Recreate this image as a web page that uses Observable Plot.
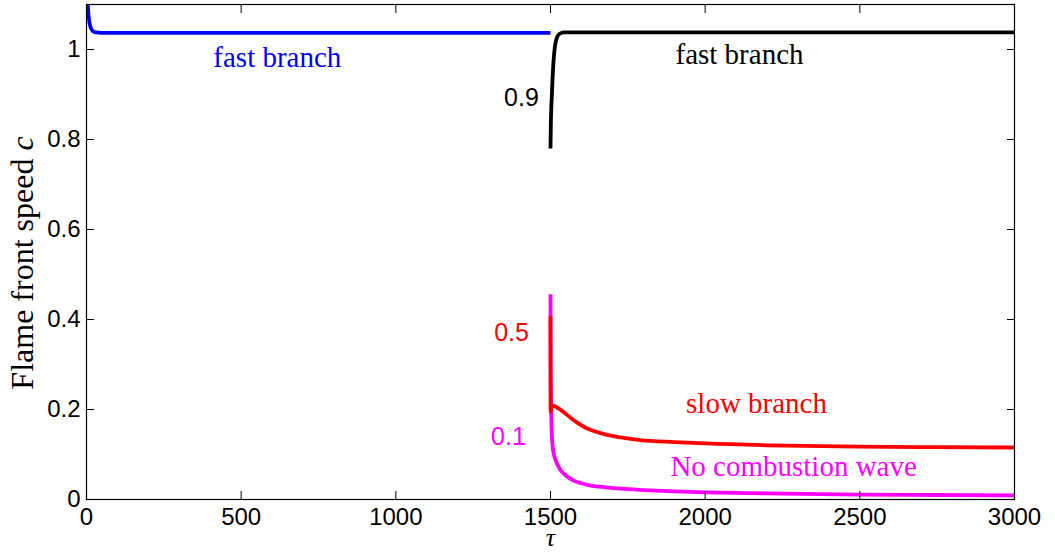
<!DOCTYPE html>
<html>
<head>
<meta charset="utf-8">
<script src="https://cdn.jsdelivr.net/npm/d3@7"></script>
<script src="https://cdn.jsdelivr.net/npm/@observablehq/plot@0.6"></script>
<style>
  html, body { margin: 0; padding: 0; background: #fff; }
  #chart { width: 1055px; height: 553px; }
</style>
</head>
<body>
<div id="chart"></div>
<script>
// ---- data ----
const xTicks = [0, 500, 1000, 1500, 2000, 2500, 3000];
const yTicks = [0, 0.2, 0.4, 0.6, 0.8, 1];
const yTickLabels = ["0", "0.2", "0.4", "0.6", "0.8", "1"];

// blue: fast branch, tau in [0, 1500]
const blueTau = [0, 1, 2.5, 5, 8, 12, 16, 20, 25, 32, 45, 70, 1500];
const blueC   = [1.25, 1.18, 1.13, 1.09, 1.067, 1.052, 1.045, 1.041, 1.039, 1.038, 1.037, 1.037, 1.037];

// black: initial 0.9 -> fast branch
const blackTau = [1500, 1501, 1502.5, 1504, 1507, 1510, 1514, 1518, 1523, 1530, 1542, 3000];
const blackC   = [0.78, 0.83, 0.87, 0.893, 0.94, 0.976, 1.005, 1.02, 1.03, 1.035, 1.038, 1.038];

// red: initial 0.5 -> slow branch
const redTau = [1500, 1500.3, 1503, 1510, 1520, 1535, 1550, 1570, 1590, 1615, 1645, 1680, 1727, 1790, 1900, 2000, 2200, 2500, 2750, 3000];
const redC   = [0.407, 0.195, 0.203, 0.208, 0.205, 0.198, 0.19, 0.179, 0.169, 0.159, 0.151, 0.144, 0.138, 0.132, 0.1275, 0.1245, 0.1205, 0.1175, 0.1163, 0.1155];

// magenta: initial 0.1 -> no combustion wave
const magTau = [1500, 1500.5, 1502, 1504, 1507, 1513, 1521, 1530, 1542, 1560, 1575, 1600, 1630, 1680, 1727, 1800, 1900, 2000, 2250, 2500, 2750, 3000];
const magC   = [0.456, 0.3, 0.2, 0.15, 0.116, 0.095, 0.08, 0.068, 0.058, 0.048, 0.042, 0.036, 0.031, 0.027, 0.024, 0.021, 0.018, 0.016, 0.013, 0.011, 0.010, 0.009];

// serif annotations (text, tau, c)
const blueLabel = ["fast branch"];   const blueLabelTau = [617];  const blueLabelC = [0.982];
const blackLabel = ["fast branch"];  const blackLabelTau = [2111]; const blackLabelC = [0.989];
const redLabel = ["slow branch"];    const redLabelTau = [2166];  const redLabelC = [0.213];
const magLabel = ["No combustion wave"]; const magLabelTau = [2286]; const magLabelC = [0.073];
// initial-value annotations
const initText = ["0.9", "0.5", "0.1"];
const initTau = [1406, 1374, 1364];
const initC = [0.893, 0.369, 0.138];

const xLabel = "τ";
const yLabel = "Flame front speed c";

// ---- build tables ----
const zip = (xs, ys) => xs.map((x, i) => ({tau: x, c: ys[i]}));
const blue = zip(blueTau, blueC);
const black = zip(blackTau, blackC);
const red = zip(redTau, redC);
const mag = zip(magTau, magC);
const init = initText.map((t, i) => ({t, tau: initTau[i], c: initC[i]}));
const initColors = ["#000000", "#ff0000", "#ff00ff"];

const serif = "'Liberation Serif', 'Times New Roman', serif";
const sans = "'Liberation Sans', Arial, Helvetica, sans-serif";

const serifLabel = (txt, xs, ys, color) => Plot.text(txt.map((t, i) => ({t, tau: xs[i], c: ys[i]})), {
  x: "tau", y: "c", text: "t", fill: color, fontFamily: serif, fontSize: 29,
  textAnchor: "middle", lineAnchor: "middle", style: "letter-spacing:1.6px"
});

const lineOpts = {x: "tau", y: "c", strokeWidth: 3.8, clip: "frame", strokeLinejoin: "round", strokeLinecap: "butt", curve: "monotone-x"};

const chart = Plot.plot({
  width: 1055,
  height: 553,
  marginLeft: 86,
  marginRight: 41,
  marginTop: 4,
  marginBottom: 54,
  x: {domain: [0, 3000]},
  y: {domain: [0, 1.1]},
  style: {background: "#ffffff", color: "#000"},
  marks: [
    Plot.line(blue, {...lineOpts, stroke: "#0000ff"}),
    Plot.line(mag, {...lineOpts, stroke: "#ff00ff"}),
    Plot.line(red, {...lineOpts, stroke: "#ff0000"}),
    Plot.line(black, {...lineOpts, stroke: "#000000"}),
    Plot.frame({stroke: "#000", strokeWidth: 1.2}),
    // inward ticks on all four sides
    Plot.axisX(xTicks, {anchor: "bottom", tickSize: -8, text: null, label: null, strokeWidth: 1}),
    Plot.axisX(xTicks, {anchor: "top", tickSize: -8, text: null, label: null, strokeWidth: 1}),
    Plot.axisY(yTicks, {anchor: "left", tickSize: -8, text: null, label: null, strokeWidth: 1}),
    Plot.axisY(yTicks, {anchor: "right", tickSize: -8, text: null, label: null, strokeWidth: 1}),
    // tick labels
    Plot.axisX(xTicks, {anchor: "bottom", tickSize: 0, tickPadding: 8, label: null, fontSize: 24, fontFamily: sans, tickFormat: d => String(d)}),
    Plot.axisY(yTicks, {anchor: "left", tickSize: 0, tickPadding: 6, label: null, fontSize: 24, fontFamily: sans, tickFormat: (d, i) => yTickLabels[i]}),
    // annotations
    serifLabel(blueLabel, blueLabelTau, blueLabelC, "#0000ff"),
    serifLabel(blackLabel, blackLabelTau, blackLabelC, "#000000"),
    serifLabel(redLabel, redLabelTau, redLabelC, "#ff0000"),
    serifLabel(magLabel, magLabelTau, magLabelC, "#ff00ff"),
    Plot.text(init, {x: "tau", y: "c", text: "t", fill: (d, i) => initColors[i], fontFamily: sans, fontSize: 25, textAnchor: "middle", lineAnchor: "middle"}),
    // axis titles
    Plot.text([xLabel], {frameAnchor: "bottom", dy: 38, fontFamily: serif, fontStyle: "italic", fontSize: 26, lineAnchor: "middle", textAnchor: "middle"}),
    Plot.text([yLabel], {frameAnchor: "left", dx: -64, dy: 11, rotate: -90, fontFamily: serif, fontSize: 32, lineAnchor: "middle", textAnchor: "middle"})
  ]
});

document.getElementById("chart").appendChild(chart);

// italic "c" in the y title
d3.select(chart).selectAll("text").each(function () {
  const el = d3.select(this);
  if (el.text() === yLabel) {
    el.text(null);
    el.append("tspan").text("Flame front speed ");
    el.append("tspan").attr("font-style", "italic").text("c");
  }
});
</script>
</body>
</html>
